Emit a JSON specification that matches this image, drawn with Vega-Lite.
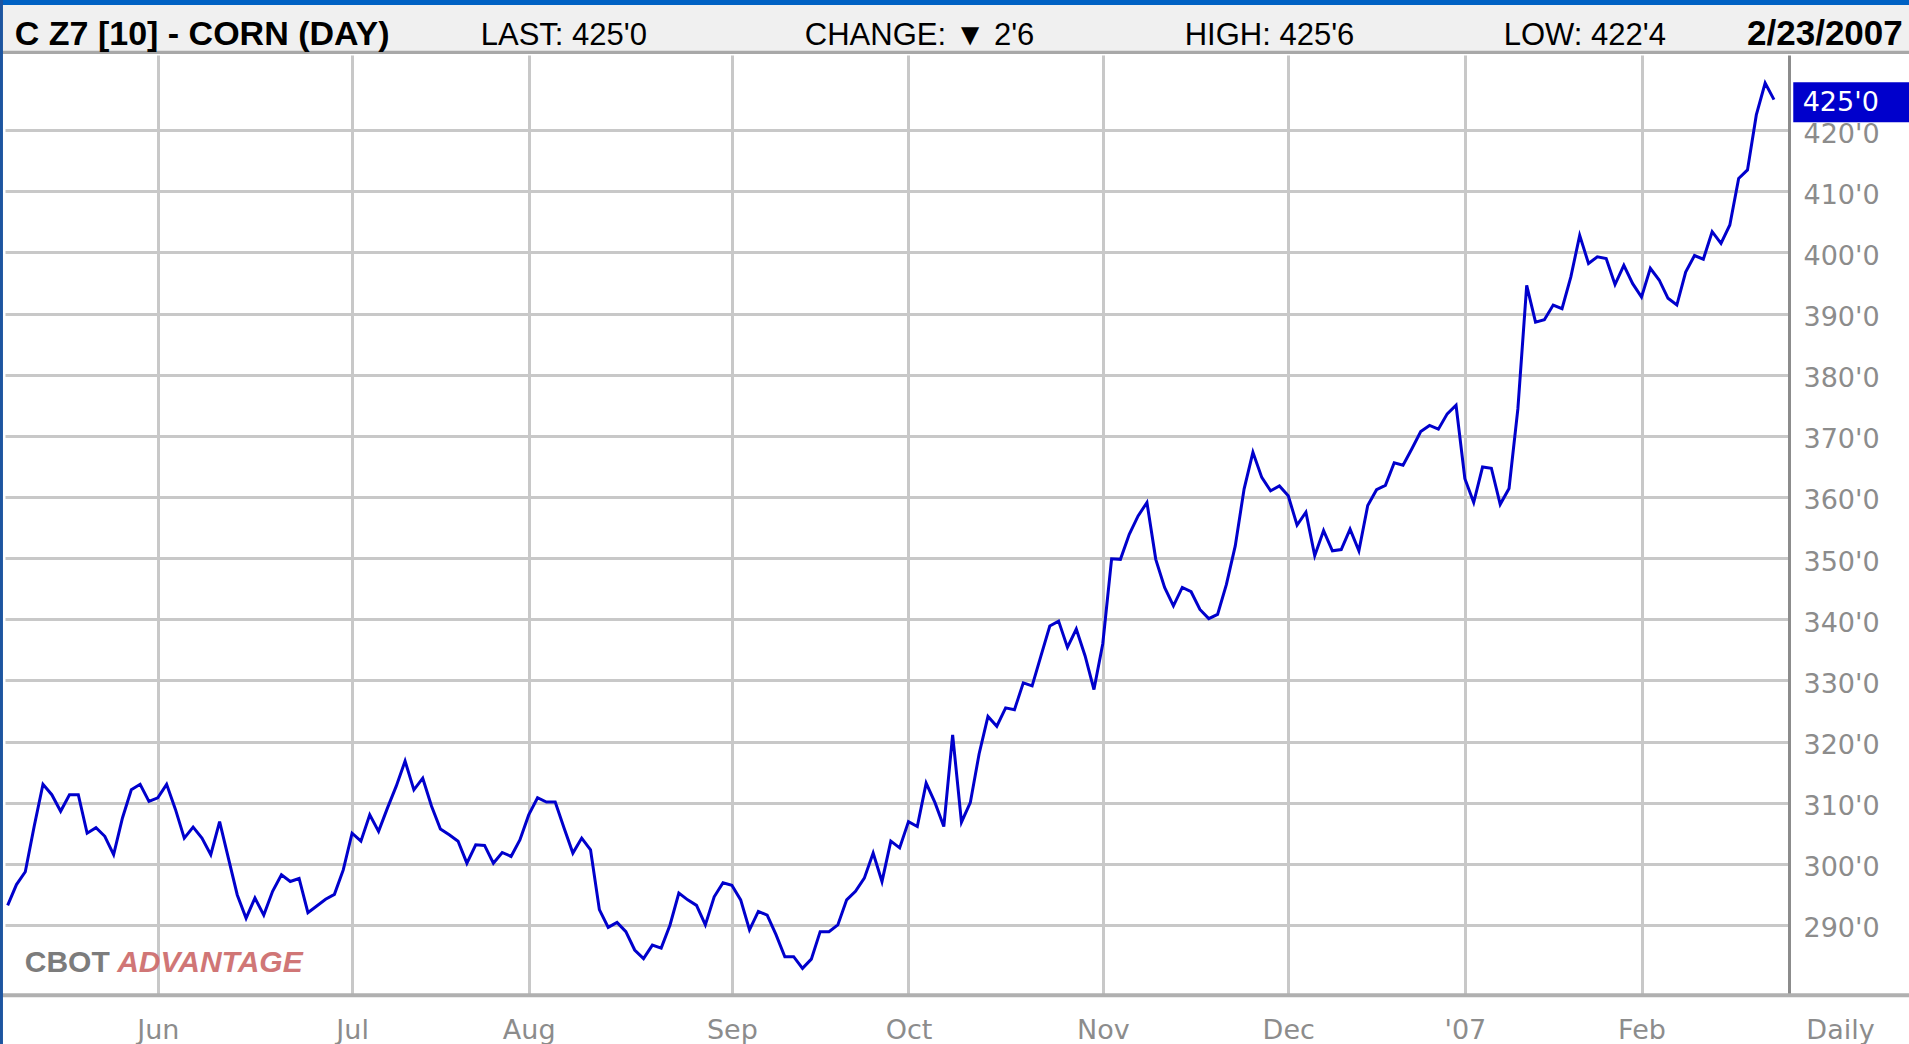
{
  "$schema": "https://vega.github.io/schema/vega-lite/v6.json",
  "width": 1784,
  "height": 939,
  "autosize": "none",
  "padding": {"left": 5, "top": 55, "right": 120, "bottom": 50},
  "background": "#ffffff",
  "view": {"stroke": null, "fill": "#ffffff"},
  "config": {"font": "DejaVu Sans", "axis": {"labelFont": "DejaVu Sans", "titleFont": "DejaVu Sans"}},
  "datasets": {
    "corn": [
      {"t": -17, "price": 293.2}, {"t": -16, "price": 296.6}, {"t": -15, "price": 298.7}, {"t": -14, "price": 306.1},
      {"t": -13, "price": 313.0}, {"t": -12, "price": 311.3}, {"t": -11, "price": 308.6}, {"t": -10, "price": 311.3},
      {"t": -9, "price": 311.3}, {"t": -8, "price": 305.0}, {"t": -7, "price": 305.9}, {"t": -6, "price": 304.5},
      {"t": -5, "price": 301.5}, {"t": -4, "price": 307.5}, {"t": -3, "price": 312.1}, {"t": -2, "price": 313.0},
      {"t": -1, "price": 310.2}, {"t": 0, "price": 310.8}, {"t": 1, "price": 313.0}, {"t": 2, "price": 308.9},
      {"t": 3, "price": 304.2}, {"t": 4, "price": 306.0}, {"t": 5, "price": 304.2}, {"t": 6, "price": 301.5},
      {"t": 7, "price": 306.9}, {"t": 8, "price": 300.9}, {"t": 9, "price": 294.9}, {"t": 10, "price": 291.1},
      {"t": 11, "price": 294.4}, {"t": 12, "price": 291.6}, {"t": 13, "price": 295.5}, {"t": 14, "price": 298.2},
      {"t": 15, "price": 297.1}, {"t": 16, "price": 297.6}, {"t": 17, "price": 292.0}, {"t": 18, "price": 293.1},
      {"t": 19, "price": 294.2}, {"t": 20, "price": 295.0}, {"t": 21, "price": 299.0}, {"t": 22, "price": 305.0},
      {"t": 23, "price": 303.7}, {"t": 24, "price": 308.0}, {"t": 25, "price": 305.3}, {"t": 26, "price": 309.1},
      {"t": 27, "price": 312.7}, {"t": 28, "price": 316.8}, {"t": 29, "price": 312.1}, {"t": 30, "price": 314.0},
      {"t": 31, "price": 309.4}, {"t": 32, "price": 305.7}, {"t": 33, "price": 304.75}, {"t": 34, "price": 303.7},
      {"t": 35, "price": 300.1}, {"t": 36, "price": 303.1}, {"t": 37, "price": 303.0}, {"t": 38, "price": 300.1},
      {"t": 39, "price": 301.85}, {"t": 40, "price": 301.2}, {"t": 41, "price": 303.9}, {"t": 42, "price": 308.0},
      {"t": 43, "price": 310.8}, {"t": 44, "price": 310.1}, {"t": 45, "price": 310.1}, {"t": 46, "price": 305.85},
      {"t": 47, "price": 301.75}, {"t": 48, "price": 304.2}, {"t": 49, "price": 302.3}, {"t": 50, "price": 292.5},
      {"t": 51, "price": 289.6}, {"t": 52, "price": 290.4}, {"t": 53, "price": 288.9}, {"t": 54, "price": 285.9},
      {"t": 55, "price": 284.5}, {"t": 56, "price": 286.7}, {"t": 57, "price": 286.2}, {"t": 58, "price": 290.0},
      {"t": 59, "price": 295.2}, {"t": 60, "price": 294.1}, {"t": 61, "price": 293.2}, {"t": 62, "price": 290.0},
      {"t": 63, "price": 294.6}, {"t": 64, "price": 296.9}, {"t": 65, "price": 296.5}, {"t": 66, "price": 294.1},
      {"t": 67, "price": 289.2}, {"t": 68, "price": 292.2}, {"t": 69, "price": 291.6}, {"t": 70, "price": 288.4},
      {"t": 71, "price": 284.8}, {"t": 72, "price": 284.8}, {"t": 73, "price": 282.9}, {"t": 74, "price": 284.4},
      {"t": 75, "price": 288.9}, {"t": 76, "price": 288.9}, {"t": 77, "price": 290.0}, {"t": 78, "price": 294.1},
      {"t": 79, "price": 295.5}, {"t": 80, "price": 297.65}, {"t": 81, "price": 301.75}, {"t": 82, "price": 297.1},
      {"t": 83, "price": 303.7}, {"t": 84, "price": 302.6}, {"t": 85, "price": 306.9}, {"t": 86, "price": 306.1},
      {"t": 87, "price": 313.2}, {"t": 88, "price": 310.0}, {"t": 89, "price": 306.1}, {"t": 90, "price": 321.1},
      {"t": 91, "price": 306.8}, {"t": 92, "price": 310.0}, {"t": 93, "price": 318.0}, {"t": 94, "price": 324.1},
      {"t": 95, "price": 322.5}, {"t": 96, "price": 325.5}, {"t": 97, "price": 325.2}, {"t": 98, "price": 329.6},
      {"t": 99, "price": 329.1}, {"t": 100, "price": 334.0}, {"t": 101, "price": 338.9}, {"t": 102, "price": 339.7},
      {"t": 103, "price": 335.4}, {"t": 104, "price": 338.4}, {"t": 105, "price": 334.0}, {"t": 106, "price": 328.5},
      {"t": 107, "price": 336.0}, {"t": 108, "price": 349.9}, {"t": 109, "price": 349.8}, {"t": 110, "price": 353.9},
      {"t": 111, "price": 356.9}, {"t": 112, "price": 359.1}, {"t": 113, "price": 349.8}, {"t": 114, "price": 345.2},
      {"t": 115, "price": 342.2}, {"t": 116, "price": 345.2}, {"t": 117, "price": 344.5}, {"t": 118, "price": 341.6},
      {"t": 119, "price": 340.1}, {"t": 120, "price": 340.8}, {"t": 121, "price": 345.7}, {"t": 122, "price": 352.0},
      {"t": 123, "price": 361.3}, {"t": 124, "price": 367.3}, {"t": 125, "price": 363.2}, {"t": 126, "price": 361.0},
      {"t": 127, "price": 361.8}, {"t": 128, "price": 360.2}, {"t": 129, "price": 355.4}, {"t": 130, "price": 357.5},
      {"t": 131, "price": 350.4}, {"t": 132, "price": 354.5}, {"t": 133, "price": 351.2}, {"t": 134, "price": 351.4},
      {"t": 135, "price": 354.75}, {"t": 136, "price": 351.2}, {"t": 137, "price": 358.6}, {"t": 138, "price": 361.2},
      {"t": 139, "price": 361.9}, {"t": 140, "price": 365.6}, {"t": 141, "price": 365.2}, {"t": 142, "price": 367.9},
      {"t": 143, "price": 370.7}, {"t": 144, "price": 371.7}, {"t": 145, "price": 371.1}, {"t": 146, "price": 373.6},
      {"t": 147, "price": 375.0}, {"t": 148, "price": 363.0}, {"t": 149, "price": 359.1}, {"t": 150, "price": 364.9},
      {"t": 151, "price": 364.7}, {"t": 152, "price": 358.8}, {"t": 153, "price": 361.4}, {"t": 154, "price": 374.4},
      {"t": 155, "price": 394.6}, {"t": 156, "price": 388.6}, {"t": 157, "price": 389.0}, {"t": 158, "price": 391.4},
      {"t": 159, "price": 390.8}, {"t": 160, "price": 396.0}, {"t": 161, "price": 402.8}, {"t": 162, "price": 398.2},
      {"t": 163, "price": 399.3}, {"t": 164, "price": 399.0}, {"t": 165, "price": 394.75}, {"t": 166, "price": 397.9},
      {"t": 167, "price": 394.9}, {"t": 168, "price": 392.7}, {"t": 169, "price": 397.4}, {"t": 170, "price": 395.5},
      {"t": 171, "price": 392.5}, {"t": 172, "price": 391.4}, {"t": 173, "price": 396.8}, {"t": 174, "price": 399.5},
      {"t": 175, "price": 398.9}, {"t": 176, "price": 403.4}, {"t": 177, "price": 401.5}, {"t": 178, "price": 404.5},
      {"t": 179, "price": 412.1}, {"t": 180, "price": 413.5}, {"t": 181, "price": 422.5}, {"t": 182, "price": 427.7},
      {"t": 183, "price": 425.0}
    ]
  },
  "layer": [
    {
      "data": {"name": "corn"},
      "mark": {"type": "line", "color": "#0000cc", "strokeWidth": 3},
      "encoding": {
        "x": {
          "field": "t", "type": "quantitative",
          "scale": {"domain": [-17.3, 184.7], "nice": false, "zero": false},
          "axis": {
            "orient": "bottom", "title": null,
            "values": [0, 22, 42, 65, 85, 107, 128, 148, 168],
            "labelExpr": "[\"Jun\", \"Jul\", \"Aug\", \"Sep\", \"Oct\", \"Nov\", \"Dec\", \"'07\", \"Feb\"][indexof([0, 22, 42, 65, 85, 107, 128, 148, 168], datum.value)]",
            "domain": false, "ticks": false, "tickSize": 0,
            "grid": true, "gridColor": "#c8c8c8", "gridWidth": 3,
            "labelColor": "#8c8c8c", "labelFontSize": 27, "labelPadding": 36,
            "labelBaseline": "middle", "labelAlign": "center",
            "labelOverlap": false, "labelBound": false, "labelFlush": false
          }
        },
        "y": {
          "field": "price", "type": "quantitative",
          "scale": {"domain": [278.7, 432.3], "nice": false, "zero": false},
          "axis": {
            "orient": "right",
            "values": [290, 300, 310, 320, 330, 340, 350, 360, 370, 380, 390, 400, 410, 420],
            "labelExpr": "datum.value + \"'0\"",
            "title": "Daily", "titleAngle": 0, "titleX": 51, "titleY": 975,
            "titleAlign": "center", "titleBaseline": "middle",
            "titleFontSize": 27, "titleFontWeight": "normal", "titleColor": "#8c8c8c",
            "domain": true, "domainColor": "#8c8c8c", "domainWidth": 3,
            "ticks": false, "tickSize": 0,
            "grid": true, "gridColor": "#c8c8c8", "gridWidth": 3,
            "labelColor": "#8c8c8c", "labelFontSize": 27, "labelPadding": 14,
            "labelAlign": "left", "labelBaseline": "middle", "labelOffset": 4,
            "labelOverlap": false, "labelBound": false, "labelFlush": false
          }
        }
      }
    },
    {
      "data": {"values": [{}]},
      "mark": {"type": "rect", "color": "#f0f0f0"},
      "encoding": {
        "x": {"datum": -18.5, "type": "quantitative"}, "x2": {"datum": 210},
        "y": {"datum": 432.95, "type": "quantitative"}, "y2": {"datum": 440.48}
      }
    },
    {
      "data": {"values": [{}]},
      "mark": {"type": "rect", "color": "#a8a8a8"},
      "encoding": {
        "x": {"datum": -18.5, "type": "quantitative"}, "x2": {"datum": 210},
        "y": {"datum": 432.46, "type": "quantitative"}, "y2": {"datum": 433.0}
      }
    },
    {
      "data": {"values": [{}]},
      "mark": {"type": "rect", "color": "#0062c4"},
      "encoding": {
        "x": {"datum": -18.5, "type": "quantitative"}, "x2": {"datum": 210},
        "y": {"datum": 440.48, "type": "quantitative"}, "y2": {"datum": 446}
      }
    },
    {
      "data": {"values": [{}]},
      "mark": {"type": "rule", "color": "#b0b0b0", "strokeWidth": 4},
      "encoding": {
        "x": {"datum": -18.5, "type": "quantitative"}, "x2": {"datum": 210},
        "y": {"datum": 278.49, "type": "quantitative"}
      }
    },
    {
      "data": {"values": [{}]},
      "mark": {"type": "rect", "color": "#1d55a0"},
      "encoding": {
        "x": {"datum": -18.5, "type": "quantitative"}, "x2": {"datum": -17.53},
        "y": {"datum": 270, "type": "quantitative"}, "y2": {"datum": 446}
      }
    },
    {
      "data": {"values": [{}]},
      "mark": {"type": "text", "align": "left", "baseline": "alphabetic", "font": "Liberation Sans", "fontWeight": "bold", "fontSize": 30, "color": "#6e6e6e", "opacity": 0.9},
      "encoding": {
        "x": {"datum": -15.06, "type": "quantitative"},
        "y": {"datum": 282.3, "type": "quantitative"},
        "text": {"value": "CBOT"}
      }
    },
    {
      "data": {"values": [{}]},
      "mark": {"type": "text", "align": "left", "baseline": "alphabetic", "font": "Liberation Sans", "fontWeight": "bold", "fontStyle": "italic", "fontSize": 30, "color": "#cc6868", "opacity": 0.9},
      "encoding": {
        "x": {"datum": -4.6, "type": "quantitative"},
        "y": {"datum": 282.3, "type": "quantitative"},
        "text": {"value": "ADVANTAGE"}
      }
    },
    {
      "data": {"name": "corn"},
      "transform": [{"filter": "datum.t == 183"}],
      "mark": {"type": "tick", "orient": "horizontal", "color": "#0000cc", "size": 116, "thickness": 40, "yOffset": 2.5, "opacity": 1},
      "encoding": {
        "x": {"datum": 191.75, "type": "quantitative"},
        "y": {"field": "price", "type": "quantitative"}
      }
    },
    {
      "data": {"name": "corn"},
      "transform": [{"filter": "datum.t == 183"}],
      "mark": {"type": "text", "align": "left", "baseline": "middle", "color": "#ffffff", "font": "DejaVu Sans", "fontSize": 27, "yOffset": 3},
      "encoding": {
        "x": {"datum": 186.25, "type": "quantitative"},
        "y": {"field": "price", "type": "quantitative"},
        "text": {"value": "425'0"}
      }
    },
    {
      "data": {"values": [{}]},
      "mark": {"type": "text", "align": "left", "baseline": "alphabetic", "font": "Liberation Sans", "fontWeight": "bold", "fontSize": 34, "color": "#000000"},
      "encoding": {
        "x": {"datum": -16.19, "type": "quantitative"},
        "y": {"datum": 433.94, "type": "quantitative"},
        "text": {"value": "C Z7 [10] - CORN (DAY)"}
      }
    },
    {
      "data": {"values": [{}]},
      "mark": {"type": "text", "align": "left", "baseline": "alphabetic", "font": "Liberation Sans", "fontSize": 31, "color": "#000000"},
      "encoding": {
        "x": {"datum": 36.57, "type": "quantitative"},
        "y": {"datum": 433.94, "type": "quantitative"},
        "text": {"value": "LAST: 425'0"}
      }
    },
    {
      "data": {"values": [{}]},
      "mark": {"type": "text", "align": "left", "baseline": "alphabetic", "font": "Liberation Sans", "fontSize": 31, "color": "#000000"},
      "encoding": {
        "x": {"datum": 73.26, "type": "quantitative"},
        "y": {"datum": 433.94, "type": "quantitative"},
        "text": {"value": "CHANGE: ▼ 2'6"}
      }
    },
    {
      "data": {"values": [{}]},
      "mark": {"type": "text", "align": "left", "baseline": "alphabetic", "font": "Liberation Sans", "fontSize": 31, "color": "#000000"},
      "encoding": {
        "x": {"datum": 116.28, "type": "quantitative"},
        "y": {"datum": 433.94, "type": "quantitative"},
        "text": {"value": "HIGH: 425'6"}
      }
    },
    {
      "data": {"values": [{}]},
      "mark": {"type": "text", "align": "left", "baseline": "alphabetic", "font": "Liberation Sans", "fontSize": 31, "color": "#000000"},
      "encoding": {
        "x": {"datum": 152.4, "type": "quantitative"},
        "y": {"datum": 433.94, "type": "quantitative"},
        "text": {"value": "LOW: 422'4"}
      }
    },
    {
      "data": {"values": [{}]},
      "mark": {"type": "text", "align": "right", "baseline": "alphabetic", "font": "Liberation Sans", "fontWeight": "bold", "fontSize": 35, "color": "#000000"},
      "encoding": {
        "x": {"datum": 197.58, "type": "quantitative"},
        "y": {"datum": 433.94, "type": "quantitative"},
        "text": {"value": "2/23/2007"}
      }
    }
  ]
}
